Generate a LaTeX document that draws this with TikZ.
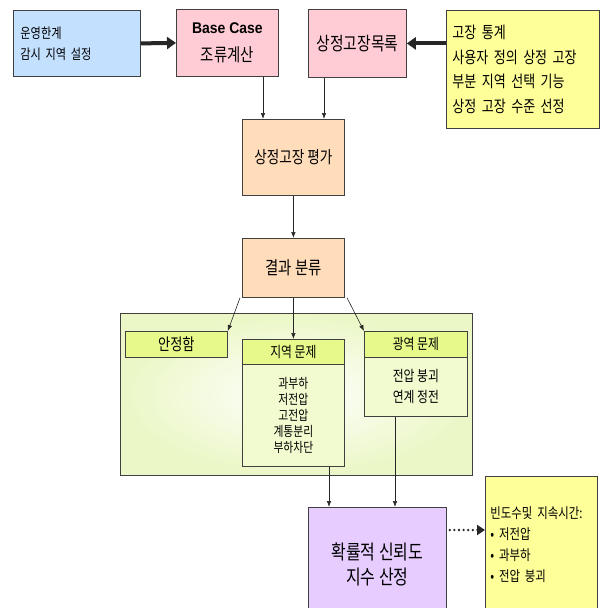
\documentclass[tikz,border=0pt]{standalone}
\usepackage{fontspec}
\setmainfont[FakeStretch=0.8]{Noto Sans CJK KR}
\newfontfamily\latinf[FakeStretch=0.9]{Liberation Sans}
\usetikzlibrary{arrows.meta}
\definecolor{blueC}{HTML}{C4E0FF}
\definecolor{pinkC}{HTML}{FFCCD6}
\definecolor{peachC}{HTML}{FFDDBB}
\definecolor{yellowC}{HTML}{FFFF99}
\definecolor{limeC}{HTML}{E6F98A}
\definecolor{paleG}{HTML}{F2FAD0}
\definecolor{edgeG}{HTML}{EBF7C6}
\definecolor{purpleC}{HTML}{E6CCFF}
\definecolor{lineC}{HTML}{404040}
\newcommand{\fs}[2]{\fontsize{#1}{#2}\selectfont}
\begin{document}
\begin{tikzpicture}[x=1pt,y=-1pt,
  box/.style={draw=lineC, line width=0.8pt, rectangle, inner sep=0pt, align=center, anchor=north west},
  thinarrow/.style={-{Latex[length=6pt,width=4.5pt]}, line width=0.6pt, draw=black!85},
  thickarrow/.style={-{Triangle[length=9pt,width=12pt]}, line width=4pt, draw=black!85},
  dotarrow/.style={-{Triangle[length=8pt,width=10pt]}, line width=2.6pt, line cap=round, dash pattern=on 0pt off 4.6pt, draw=black!85}]
\useasboundingbox (0,0) rectangle (600,608);
\clip (0,0) rectangle (600,608);

% top row
\node[box, fill=blueC, minimum width=127pt, minimum height=66pt, text width=113pt, align=left, inner xsep=7pt, font=\fs{14}{21}] (blue) at (13,10)
  {운영한계\\감시 지역 설정};
\node[box, fill=pinkC, minimum width=102pt, minimum height=67pt, font=\fs{18}{28}] (base) at (176,9)
  {{\latinf\bfseries\fs{15.5}{20}Base Case}\\조류계산};
\node[box, fill=pinkC, minimum width=98pt, minimum height=68pt, font=\fs{18.5}{20}] (list) at (308,9)
  {상정고장목록};
\node[box, fill=yellowC, minimum width=153pt, minimum height=118pt, text width=141pt, align=left, inner xsep=6pt, font=\fs{16.3}{24.5}] (yel) at (446,10)
  {고장 통계\\사용자 정의 상정 고장\\부분 지역 선택 기능\\상정 고장 수준 선정};

% middle column
\node[box, fill=peachC, minimum width=102pt, minimum height=76pt, font=\fs{17}{20}] (eval) at (242,119)
  {상정고장 평가};
\node[box, fill=peachC, minimum width=102pt, minimum height=59pt, font=\fs{18}{20}] (classify) at (242,238)
  {결과 분류};

% green region
\node[box, shade, inner color=white, outer color=edgeG, minimum width=352pt, minimum height=162pt] (region) at (120,313) {};
\node[box, fill=limeC, minimum width=102pt, minimum height=26pt, font=\fs{16.5}{20}] (stable) at (125,331)
  {안정함};
\node[box, fill=limeC, minimum width=102pt, minimum height=25pt, font=\fs{14.8}{20}] (localh) at (242,339)
  {지역 문제};
\node[box, fill=paleG, minimum width=102pt, minimum height=102pt, font=\fs{13.5}{15.8}] (localb) at (242,364)
  {과부하\\저전압\\고전압\\계통분리\\부하차단};
\node[box, fill=limeC, minimum width=103pt, minimum height=26pt, font=\fs{14.8}{20}] (wideh) at (364,331)
  {광역 문제};
\node[box, fill=paleG, minimum width=103pt, minimum height=59pt, font=\fs{14.8}{21}] (wideb) at (364,357)
  {전압 붕괴\\연계 정전};

% bottom
\node[box, fill=purpleC, minimum width=138pt, minimum height=115pt, font=\fs{20}{25}] (prob) at (308,507)
  {확률적 신뢰도\\지수 산정};
\node[box, fill=yellowC, minimum width=107pt, minimum height=137pt, text width=102pt, align=left, inner xsep=5pt, font=\fs{14.3}{21}] (ryel) at (485,476)
  {빈도수및 지속시간:\\• 저전압\\• 과부하\\• 전압 붕괴};

% helper coordinates
\coordinate (xa) at (263,0);
\coordinate (xb) at (324,0);
\coordinate (xc) at (240,0);
\coordinate (xd) at (347,0);
\coordinate (xe) at (329,0);
\coordinate (xf) at (395,0);
\coordinate (yd) at (0,530);

% connectors
\draw[thickarrow] (blue.east) -- (base.west);
\draw[thickarrow] (yel.west |- list.east) -- (list.east);
\draw[thinarrow] (base.south -| xa) -- (eval.north -| xa);
\draw[thinarrow] (list.south -| xb) -- (eval.north -| xb);
\draw[thinarrow] (eval.south) -- (classify.north);
\draw[thinarrow] (classify.south -| xc) -- (stable.north east);
\draw[thinarrow] (classify.south) -- (localh.north);
\draw[thinarrow] (classify.south -| xd) -- (wideh.north west);
\draw[thinarrow] (localb.south -| xe) -- (prob.north -| xe);
\draw[thinarrow] (wideb.south -| xf) -- (prob.north -| xf);
\draw[dotarrow] ([xshift=3pt]prob.east |- yd) -- (ryel.west |- yd);
\end{tikzpicture}
\end{document}
